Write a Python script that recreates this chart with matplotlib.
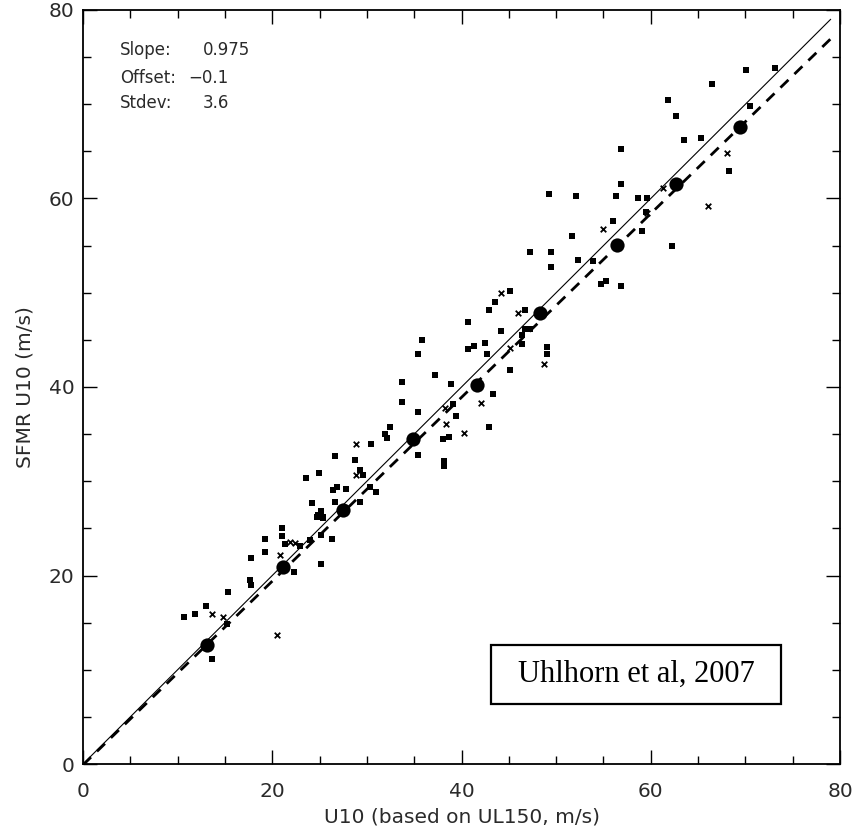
# SFMR surface wind vs. U10 from UL150 profiles, with 1:1 line and linear fit
import numpy as np
import matplotlib.pyplot as plt
from matplotlib.patches import Rectangle

# individual matched points (filled squares)
sq_x = [10.7, 11.8, 13.0, 13.6, 15.2, 15.3, 17.6, 17.8, 17.8, 19.2, 19.2, 21.0, 21.0, 21.4,
        22.9, 22.3, 25.2, 24.0, 25.2, 26.3, 24.8, 25.4, 24.2, 23.6, 24.9, 26.6, 26.4, 26.8,
        26.6, 27.8, 28.7, 30.4, 29.3, 29.6, 30.3, 31.0, 29.3, 24.7, 25.2, 25.4,
        31.9, 32.1, 32.4, 33.7, 33.7, 35.4, 35.4, 37.2, 35.8, 35.4, 38.1, 38.1, 38.0, 38.7,
        39.4, 38.9, 42.9, 43.3, 40.7, 40.7, 41.3, 42.5, 42.7, 44.2, 45.1, 46.4, 46.4, 46.7,
        47.2, 46.7, 42.9, 43.5, 45.1, 49.0, 49.0, 39.1,
        49.2, 52.1, 56.3, 56.9, 58.6, 59.6, 56.0, 51.7, 47.2, 49.5, 49.5, 52.3, 53.9, 59.1,
        59.5, 62.2, 54.7, 55.3, 56.9,
        70.1, 73.1, 66.5, 61.8, 62.7, 70.5, 63.5, 65.3, 68.3, 56.9]
sq_y = [15.6, 15.9, 16.8, 11.1, 14.9, 18.3, 19.5, 19.0, 21.9, 23.9, 22.5, 24.2, 25.0, 23.3,
        23.1, 20.4, 21.2, 23.8, 24.3, 23.9, 26.4, 26.1, 27.7, 30.3, 30.9, 32.7, 29.1, 29.4,
        27.8, 29.2, 32.3, 34.0, 31.2, 30.7, 29.4, 28.9, 27.8, 26.2, 26.8, 26.2,
        35.0, 34.6, 35.8, 40.5, 38.4, 37.4, 32.8, 41.3, 45.0, 43.5, 31.6, 32.2, 34.5, 34.7,
        36.9, 40.3, 35.8, 39.3, 46.9, 44.0, 44.3, 44.7, 43.5, 45.9, 41.8, 44.6, 45.5, 46.2,
        46.2, 48.2, 48.2, 49.0, 50.2, 44.2, 43.5, 38.2,
        60.5, 60.3, 60.3, 61.5, 60.1, 60.1, 57.6, 56.0, 54.3, 54.3, 52.7, 53.5, 53.4, 56.5,
        58.6, 55.0, 50.9, 51.2, 50.7,
        73.6, 73.8, 72.2, 70.5, 68.8, 69.8, 66.2, 66.4, 62.9, 65.3]

# points drawn with crosses
cr_x = [13.6, 14.8, 20.5, 20.8, 21.9, 22.4, 28.9, 28.9, 38.4, 38.3, 40.3, 42.1, 46.0,
        44.2, 45.1, 48.7, 55.0, 61.3, 68.1, 66.1, 59.6]
cr_y = [15.9, 15.6, 13.7, 22.2, 23.6, 23.5, 34.0, 30.7, 36.1, 37.8, 35.1, 38.3, 47.8,
        50.0, 44.1, 42.4, 56.8, 61.1, 64.8, 59.2, 58.5]

# bin averages
bin_x = [13.1, 21.1, 27.5, 34.9, 41.6, 48.3, 56.4, 62.7, 69.4]
bin_y = [12.6, 20.9, 26.9, 34.5, 40.2, 47.8, 55.1, 61.5, 67.6]

# fit statistics
slope = 0.975
offset = -0.1
stdev = 3.6

line_x = np.array([0.0, 79.0])

fig = plt.figure(figsize=(8.55, 8.30), dpi=100)
ax = fig.add_axes([83 / 855, 66 / 830, 757 / 855, 754 / 830])

ax.scatter(sq_x, sq_y, marker='s', s=14, color='black', linewidths=0, zorder=3)
ax.scatter(cr_x, cr_y, marker='x', s=16, color='black', linewidths=1.3, zorder=3)
ax.scatter(bin_x, bin_y, marker='o', s=105, color='black', linewidths=0, zorder=4)

ax.plot(line_x, line_x, color='black', lw=0.8, zorder=2)
ax.plot(line_x, slope * line_x + offset, color='black', lw=2.0,
        dashes=(4, 3), zorder=2)

ax.set_xlim(0, 80)
ax.set_ylim(0, 80)
ax.set_xticks([0, 20, 40, 60, 80])
ax.set_yticks([0, 20, 40, 60, 80])
ax.set_xticks(np.arange(0, 81, 5), minor=True)
ax.set_yticks(np.arange(0, 81, 5), minor=True)
ax.tick_params(which='both', direction='in', top=True, right=True, width=1.0,
               colors='black', labelcolor='#2a2a2a', labelsize=14.5)
ax.tick_params(which='major', length=10)
ax.tick_params(which='minor', length=5.5)
ax.tick_params(axis='x', pad=13)
ax.tick_params(axis='y', pad=6)
for s in ax.spines.values():
    s.set_linewidth(1.3)

ax.set_xlabel('U10 (based on UL150, m/s)', fontsize=14.5, color='#2a2a2a')
ax.xaxis.set_label_coords(0.5, -0.070)
ax.xaxis.label.set_va('center')
ax.set_ylabel('SFMR U10 (m/s)', fontsize=14.5, color='#2a2a2a')
ax.yaxis.set_label_coords(-0.077, 0.5)
ax.yaxis.label.set_va('center')

# statistics block
st = dict(fontsize=12, color='#2a2a2a', transform=ax.transAxes, va='center')
ax.text(0.049, 0.947, 'Slope:', **st)
ax.text(0.049, 0.910, 'Offset:', **st)
ax.text(0.049, 0.877, 'Stdev:', **st)
ax.text(0.1585, 0.947, f'{slope:.3f}', **st)
ax.text(0.139, 0.910, f'\u2212{abs(offset):.1f}', **st)
ax.text(0.1585, 0.877, f'{stdev:.1f}', **st)

# citation box
ax.add_patch(Rectangle((0.539, 0.0796), 0.383, 0.0783, transform=ax.transAxes,
                       facecolor='white', edgecolor='black', lw=1.6, zorder=5))
ax.text(0.7305, 0.1187, 'Uhlhorn et al, 2007', transform=ax.transAxes,
        ha='center', va='center', fontsize=22, family='Liberation Serif', zorder=6)

fig.savefig('out.png', dpi=100)
